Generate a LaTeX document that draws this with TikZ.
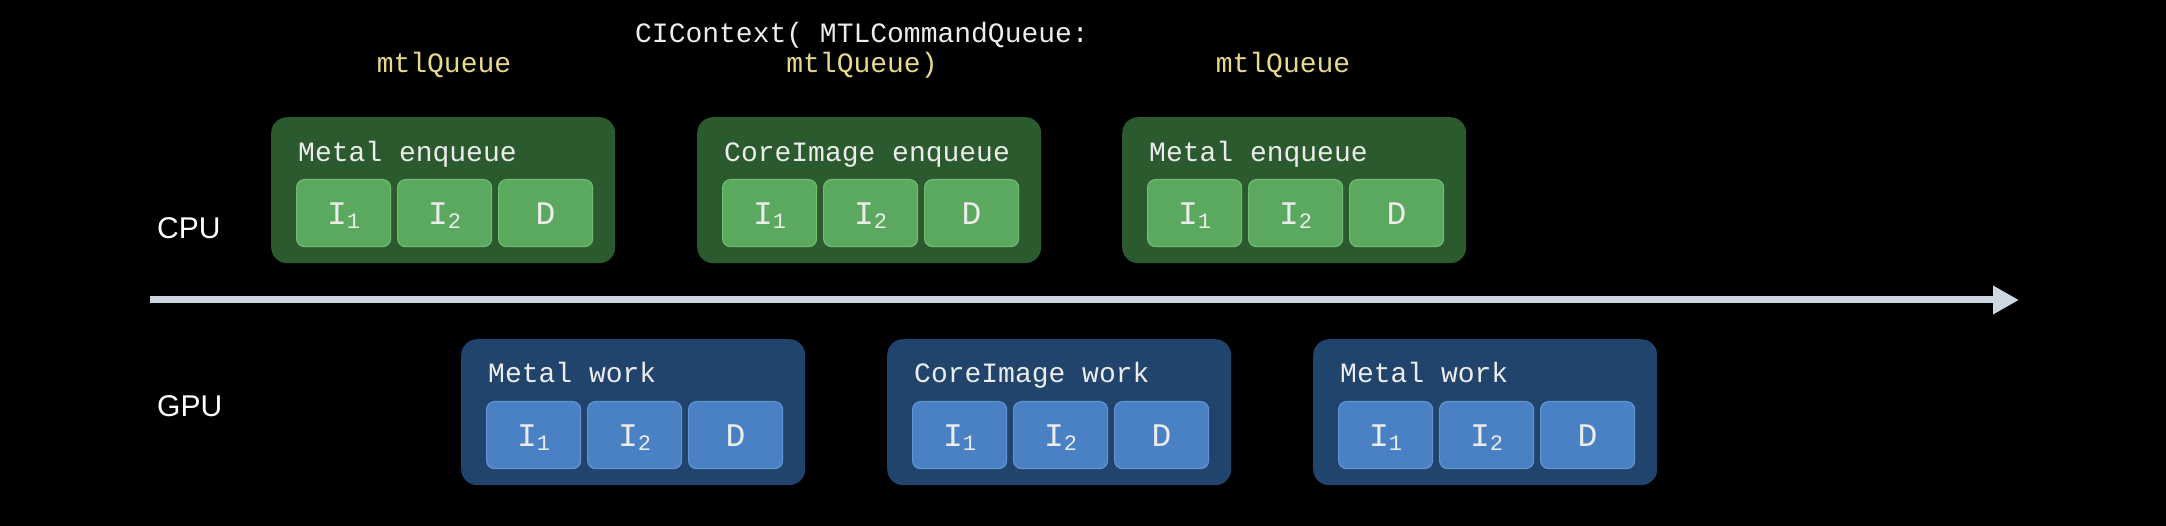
\documentclass[tikz,border=0pt]{standalone}
\usepackage{fontspec}
\setmainfont{Liberation Sans}
\setmonofont{Liberation Mono}
\usetikzlibrary{arrows.meta}

\definecolor{cpuouter}{RGB}{44,90,47}
\definecolor{cpuinner}{RGB}{90,169,94}
\definecolor{cpuedge}{RGB}{112,188,114}
\definecolor{gpuouter}{RGB}{33,68,108}
\definecolor{gpuinner}{RGB}{74,128,196}
\definecolor{gpuedge}{RGB}{98,148,210}
\definecolor{queuetxt}{RGB}{232,216,140}
\definecolor{labeltxt}{RGB}{236,236,236}
\definecolor{timeaxis}{RGB}{205,215,226}

\newcommand{\lowsub}[1]{\raisebox{-4pt}{\fontsize{22}{22}\selectfont #1}}

\tikzset{
  lane/.style={rounded corners=16pt, minimum width=344pt, minimum height=146pt, anchor=north west, inner sep=0pt},
  cpulane/.style={lane, fill=cpuouter},
  gpulane/.style={lane, fill=gpuouter},
  cell/.style={rounded corners=8pt, minimum width=94pt, minimum height=67pt, anchor=north west, inner sep=0pt,
    line width=1.2pt, text=labeltxt, text height=22pt, text depth=0pt, font=\ttfamily\fontsize{33}{33}\selectfont},
  cpucell/.style={cell, fill=cpuinner, draw=cpuedge},
  gpucell/.style={cell, fill=gpuinner, draw=gpuedge},
  lanetitle/.style={anchor=base west, inner sep=0pt, text=labeltxt, font=\ttfamily\fontsize{28}{28}\selectfont},
  code/.style={anchor=base, inner sep=0pt, font=\ttfamily\fontsize{28}{28}\selectfont},
  unit/.style={anchor=base west, inner sep=0pt, text=white, font=\fontsize{30}{30}\selectfont},
  timeline/.style={timeaxis, line width=7pt, -{Triangle[length=26pt,width=27pt]}}
}

\begin{document}
\begin{tikzpicture}[x=1pt, y=-1pt]

% Background
\fill[black] (0,0) rectangle (2166,526);
\useasboundingbox (0,0) rectangle (2166,526);

% Queue labels
\node[code, text=queuetxt] (q1) at (444,73) {mtlQueue};
\node[code, text=labeltxt] (ctx) at (862,43) {CIContext( MTLCommandQueue:};
\node[code, text=queuetxt] (q2) at (862,73) {mtlQueue)};
\node[code, text=queuetxt] (q3) at (1283,73) {mtlQueue};

% CPU and GPU rows
\node[unit] (cpu) at (157,239) {CPU};
\node[unit] (gpu) at (157,417) {GPU};

% Timeline
\coordinate (t0) at (150,300);
\coordinate (t1) at (2019,300);
\draw[timeline] (t0) -- (t1);

% Enqueue (green) and work (blue) boxes
\foreach \i/\gx/\bx/\name in {1/271/461/Metal, 2/697/887/CoreImage, 3/1122/1313/Metal} {
    \node[cpulane] (cpu\i) at (\gx,117) {};
    \node[lanetitle] (cpu\i-title) at (\gx+27,162) {\name\ enqueue};
    \node[gpulane] (gpu\i) at (\bx,339) {};
    \node[lanetitle] (gpu\i-title) at (\bx+27,383) {\name\ work};
    \foreach \k/\txt in {0/I\lowsub{1}, 1/I\lowsub{2}, 2/D} {
        \node[cpucell] (cpu\i-c\k) at (\gx+25+\k*101,179) {\txt};
        \node[gpucell] (gpu\i-c\k) at (\bx+25+\k*101,401) {\txt};
    }
}

\end{tikzpicture}
\end{document}
